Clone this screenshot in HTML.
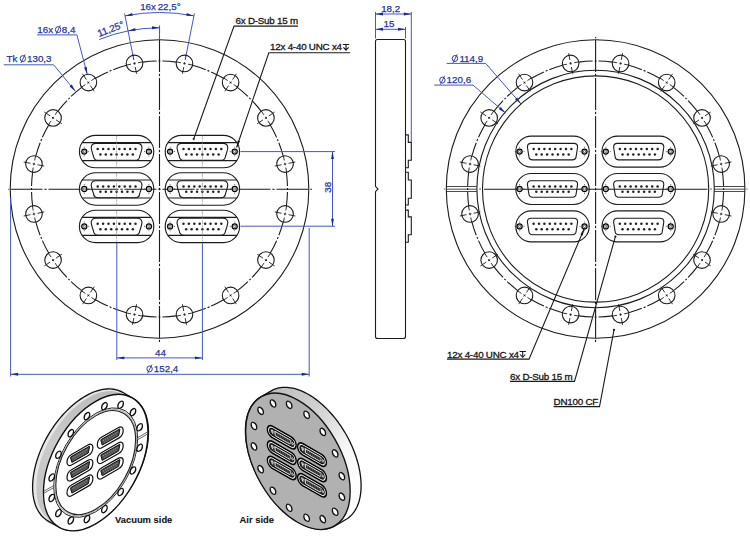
<!DOCTYPE html><html><head><meta charset="utf-8"><style>html,body{margin:0;padding:0;background:#fff;width:750px;height:536px;overflow:hidden}svg{display:block}.k{fill:none;stroke:#1c1c1c;stroke-width:1.1}.c{stroke:#1c1c1c;stroke-width:0.9}.b{fill:none;stroke:#4557c6;stroke-width:1}text{font-family:"Liberation Sans",sans-serif}.tb{fill:#2535a6;stroke:#2535a6;stroke-width:0.25;font-size:9.8px;letter-spacing:0px;word-spacing:-1px}.tk{fill:#151515;stroke:#151515;stroke-width:0.3;font-size:9.8px;letter-spacing:-0.22px;word-spacing:0px}</style></head><body><svg width="750" height="536" viewBox="0 0 750 536"><defs><g id="connL"><rect x="-37.2" y="-16.2" width="74.4" height="32.4" rx="16.2" class="k" stroke-width="1.3"/><line x1="-34.5" y1="-9" x2="34.5" y2="-9" class="k" stroke-width="1.6"/><line x1="-34.5" y1="9" x2="34.5" y2="9" class="k" stroke-width="1.6"/><path d="M -20.7 -8.2 L 20.7 -8.2 Q 25.3 -8.2 25.4 -3.6 Q 24.7 0.3 23.1 4.66 Q 22.8 8.8 18.2 8.8 L -18.2 8.8 Q -22.8 8.8 -23.1 4.66 Q -24.7 0.3 -25.4 -3.6 Q -25.3 -8.2 -20.7 -8.2 Z" class="k" stroke-width="1.2"/><circle cx="-18.9" cy="-2.6" r="1.25" fill="#222"/><circle cx="-13.5" cy="-2.6" r="1.25" fill="#222"/><circle cx="-8.1" cy="-2.6" r="1.25" fill="#222"/><circle cx="-2.7" cy="-2.6" r="1.25" fill="#222"/><circle cx="2.7" cy="-2.6" r="1.25" fill="#222"/><circle cx="8.1" cy="-2.6" r="1.25" fill="#222"/><circle cx="13.5" cy="-2.6" r="1.25" fill="#222"/><circle cx="18.9" cy="-2.6" r="1.25" fill="#222"/><circle cx="-16.2" cy="2.8" r="1.25" fill="#222"/><circle cx="-10.8" cy="2.8" r="1.25" fill="#222"/><circle cx="-5.4" cy="2.8" r="1.25" fill="#222"/><circle cx="0" cy="2.8" r="1.25" fill="#222"/><circle cx="5.4" cy="2.8" r="1.25" fill="#222"/><circle cx="10.8" cy="2.8" r="1.25" fill="#222"/><circle cx="16.2" cy="2.8" r="1.25" fill="#222"/><circle cx="-32.3" cy="0" r="2.55" fill="#fff" stroke="#000" stroke-width="1.2"/><rect x="-33.3" y="-1.1" width="2" height="2.2" rx="0.6" fill="none" stroke="#333" stroke-width="0.7"/><line x1="-32.3" y1="-4.8" x2="-32.3" y2="-3.9" stroke="#333" stroke-width="0.8"/><line x1="-32.3" y1="3.9" x2="-32.3" y2="4.8" stroke="#333" stroke-width="0.8"/><line x1="-37.2" y1="0" x2="-36.2" y2="0" stroke="#333" stroke-width="0.8"/><line x1="-28.4" y1="0" x2="-27.4" y2="0" stroke="#333" stroke-width="0.8"/><circle cx="32.3" cy="0" r="2.55" fill="#fff" stroke="#000" stroke-width="1.2"/><rect x="31.3" y="-1.1" width="2" height="2.2" rx="0.6" fill="none" stroke="#333" stroke-width="0.7"/><line x1="32.3" y1="-4.8" x2="32.3" y2="-3.9" stroke="#333" stroke-width="0.8"/><line x1="32.3" y1="3.9" x2="32.3" y2="4.8" stroke="#333" stroke-width="0.8"/><line x1="27.4" y1="0" x2="28.4" y2="0" stroke="#333" stroke-width="0.8"/><line x1="36.2" y1="0" x2="37.2" y2="0" stroke="#333" stroke-width="0.8"/><line x1="0" y1="-16" x2="0" y2="16" stroke="#888" stroke-width="0.6" stroke-dasharray="4 1"/></g><g id="connR"><rect x="-36.7" y="-15.5" width="73.4" height="31" rx="15.5" class="k" stroke-width="1.3"/><path d="M -21.4 -8.2 L 21.4 -8.2 Q 25 -8.2 25.1 -4.6 Q 24.4 0.05 23.6 5.06 Q 23.3 8.3 19.7 8.3 L -19.7 8.3 Q -23.3 8.3 -23.6 5.06 Q -24.4 0.05 -25.1 -4.6 Q -25 -8.2 -21.4 -8.2 Z" class="k" stroke-width="1.2"/><circle cx="-18.9" cy="-2.6" r="1.25" fill="#222"/><circle cx="-13.5" cy="-2.6" r="1.25" fill="#222"/><circle cx="-8.1" cy="-2.6" r="1.25" fill="#222"/><circle cx="-2.7" cy="-2.6" r="1.25" fill="#222"/><circle cx="2.7" cy="-2.6" r="1.25" fill="#222"/><circle cx="8.1" cy="-2.6" r="1.25" fill="#222"/><circle cx="13.5" cy="-2.6" r="1.25" fill="#222"/><circle cx="18.9" cy="-2.6" r="1.25" fill="#222"/><circle cx="-16.2" cy="2.8" r="1.25" fill="#222"/><circle cx="-10.8" cy="2.8" r="1.25" fill="#222"/><circle cx="-5.4" cy="2.8" r="1.25" fill="#222"/><circle cx="0" cy="2.8" r="1.25" fill="#222"/><circle cx="5.4" cy="2.8" r="1.25" fill="#222"/><circle cx="10.8" cy="2.8" r="1.25" fill="#222"/><circle cx="16.2" cy="2.8" r="1.25" fill="#222"/><circle cx="-32.9" cy="0" r="2.55" fill="#fff" stroke="#000" stroke-width="1.2"/><rect x="-33.9" y="-1.1" width="2" height="2.2" rx="0.6" fill="none" stroke="#333" stroke-width="0.7"/><line x1="-32.9" y1="-4.8" x2="-32.9" y2="-3.9" stroke="#333" stroke-width="0.8"/><line x1="-32.9" y1="3.9" x2="-32.9" y2="4.8" stroke="#333" stroke-width="0.8"/><line x1="-37.8" y1="0" x2="-36.8" y2="0" stroke="#333" stroke-width="0.8"/><line x1="-29" y1="0" x2="-28" y2="0" stroke="#333" stroke-width="0.8"/><circle cx="32" cy="0" r="2.55" fill="#fff" stroke="#000" stroke-width="1.2"/><rect x="31" y="-1.1" width="2" height="2.2" rx="0.6" fill="none" stroke="#333" stroke-width="0.7"/><line x1="32" y1="-4.8" x2="32" y2="-3.9" stroke="#333" stroke-width="0.8"/><line x1="32" y1="3.9" x2="32" y2="4.8" stroke="#333" stroke-width="0.8"/><line x1="27.1" y1="0" x2="28.1" y2="0" stroke="#333" stroke-width="0.8"/><line x1="35.9" y1="0" x2="36.9" y2="0" stroke="#333" stroke-width="0.8"/></g></defs><linearGradient id="vg" gradientUnits="userSpaceOnUse" x1="115.7" y1="392.6" x2="55.7" y2="522.6"><stop offset="0" stop-color="#bababa"/><stop offset="0.5" stop-color="#cbcbcb"/><stop offset="1" stop-color="#c4c4c4"/></linearGradient><path d="M 32.6 487 L 32.63 484.87 L 32.73 482.7 L 32.89 480.5 L 33.11 478.27 L 33.4 476.02 L 33.75 473.74 L 34.17 471.44 L 34.65 469.12 L 35.18 466.79 L 35.78 464.45 L 36.44 462.09 L 37.16 459.73 L 37.94 457.37 L 38.78 455 L 39.67 452.64 L 40.62 450.28 L 41.63 447.93 L 42.68 445.59 L 43.79 443.27 L 44.95 440.96 L 46.16 438.67 L 47.42 436.4 L 48.72 434.16 L 50.07 431.94 L 51.46 429.75 L 52.89 427.6 L 54.36 425.48 L 55.87 423.4 L 57.42 421.36 L 59 419.37 L 60.61 417.42 L 62.25 415.52 L 63.92 413.66 L 65.62 411.86 L 67.34 410.12 L 69.08 408.43 L 70.85 406.8 L 72.63 405.23 L 74.42 403.72 L 76.23 402.28 L 78.05 400.91 L 79.88 399.6 L 81.72 398.36 L 83.56 397.19 L 85.4 396.1 L 87.24 395.08 L 89.08 394.13 L 90.92 393.26 L 92.75 392.47 L 94.57 391.76 L 96.38 391.12 L 98.17 390.57 L 99.95 390.1 L 101.72 389.7 L 103.46 389.39 L 105.18 389.16 L 106.88 389.02 L 108.55 388.95 L 110.19 388.97 L 111.8 389.07 L 113.38 389.25 L 114.93 389.52 L 116.44 389.86 L 117.91 390.29 L 119.34 390.8 L 120.73 391.39 L 122.08 392.06 L 132.38 397.96 L 133.68 398.71 L 134.94 399.53 L 136.15 400.44 L 137.31 401.41 L 138.42 402.47 L 139.47 403.59 L 140.48 404.79 L 141.43 406.06 L 142.32 407.4 L 143.16 408.8 L 143.94 410.27 L 144.66 411.81 L 145.32 413.4 L 145.92 415.06 L 146.45 416.77 L 146.93 418.54 L 147.35 420.36 L 147.7 422.24 L 147.99 424.16 L 148.21 426.13 L 148.37 428.15 L 148.47 430.2 L 148.5 432.3 L 148.47 434.43 L 148.37 436.6 L 148.21 438.8 L 147.99 441.03 L 147.7 443.28 L 147.35 445.56 L 146.93 447.86 L 146.45 450.18 L 145.92 452.51 L 145.32 454.85 L 144.66 457.21 L 143.94 459.57 L 143.16 461.93 L 142.32 464.3 L 141.43 466.66 L 140.48 469.02 L 139.47 471.37 L 138.42 473.71 L 137.31 476.03 L 136.15 478.34 L 134.94 480.63 L 133.68 482.9 L 132.38 485.14 L 131.03 487.36 L 129.64 489.55 L 128.21 491.7 L 126.74 493.82 L 125.23 495.9 L 123.68 497.94 L 122.1 499.93 L 120.49 501.88 L 118.85 503.78 L 117.18 505.64 L 115.48 507.44 L 113.76 509.18 L 112.02 510.87 L 110.25 512.5 L 108.47 514.07 L 106.68 515.58 L 104.87 517.02 L 103.05 518.39 L 101.22 519.7 L 99.38 520.94 L 97.54 522.11 L 95.7 523.2 L 93.86 524.22 L 92.02 525.17 L 90.18 526.04 L 88.35 526.83 L 86.53 527.54 L 84.72 528.18 L 82.93 528.73 L 81.15 529.2 L 79.38 529.6 L 77.64 529.91 L 75.92 530.14 L 74.22 530.28 L 72.55 530.35 L 70.91 530.33 L 69.3 530.23 L 67.72 530.05 L 66.17 529.78 L 64.66 529.44 L 63.19 529.01 L 61.76 528.5 L 60.37 527.91 L 59.02 527.24 L 48.72 521.34 L 47.42 520.59 L 46.16 519.77 L 44.95 518.86 L 43.79 517.89 L 42.68 516.83 L 41.63 515.71 L 40.62 514.51 L 39.67 513.24 L 38.78 511.9 L 37.94 510.5 L 37.16 509.03 L 36.44 507.49 L 35.78 505.9 L 35.18 504.24 L 34.65 502.53 L 34.17 500.76 L 33.75 498.94 L 33.4 497.06 L 33.11 495.14 L 32.89 493.17 L 32.73 491.15 L 32.63 489.1 Z" fill="url(#vg)"/><circle r="149.3" transform="matrix(0.35 -0.2 0 0.41 86.95 457.59)" fill="none" stroke="#e6e6e6" stroke-width="3.5" vector-effect="non-scaling-stroke"/><path d="M 32.6 487 L 32.63 484.87 L 32.73 482.7 L 32.89 480.5 L 33.11 478.27 L 33.4 476.02 L 33.75 473.74 L 34.17 471.44 L 34.65 469.12 L 35.18 466.79 L 35.78 464.45 L 36.44 462.09 L 37.16 459.73 L 37.94 457.37 L 38.78 455 L 39.67 452.64 L 40.62 450.28 L 41.63 447.93 L 42.68 445.59 L 43.79 443.27 L 44.95 440.96 L 46.16 438.67 L 47.42 436.4 L 48.72 434.16 L 50.07 431.94 L 51.46 429.75 L 52.89 427.6 L 54.36 425.48 L 55.87 423.4 L 57.42 421.36 L 59 419.37 L 60.61 417.42 L 62.25 415.52 L 63.92 413.66 L 65.62 411.86 L 67.34 410.12 L 69.08 408.43 L 70.85 406.8 L 72.63 405.23 L 74.42 403.72 L 76.23 402.28 L 78.05 400.91 L 79.88 399.6 L 81.72 398.36 L 83.56 397.19 L 85.4 396.1 L 87.24 395.08 L 89.08 394.13 L 90.92 393.26 L 92.75 392.47 L 94.57 391.76 L 96.38 391.12 L 98.17 390.57 L 99.95 390.1 L 101.72 389.7 L 103.46 389.39 L 105.18 389.16 L 106.88 389.02 L 108.55 388.95 L 110.19 388.97 L 111.8 389.07 L 113.38 389.25 L 114.93 389.52 L 116.44 389.86 L 117.91 390.29 L 119.34 390.8 L 120.73 391.39 L 122.08 392.06 L 132.38 397.96 L 133.68 398.71 L 134.94 399.53 L 136.15 400.44 L 137.31 401.41 L 138.42 402.47 L 139.47 403.59 L 140.48 404.79 L 141.43 406.06 L 142.32 407.4 L 143.16 408.8 L 143.94 410.27 L 144.66 411.81 L 145.32 413.4 L 145.92 415.06 L 146.45 416.77 L 146.93 418.54 L 147.35 420.36 L 147.7 422.24 L 147.99 424.16 L 148.21 426.13 L 148.37 428.15 L 148.47 430.2 L 148.5 432.3 L 148.47 434.43 L 148.37 436.6 L 148.21 438.8 L 147.99 441.03 L 147.7 443.28 L 147.35 445.56 L 146.93 447.86 L 146.45 450.18 L 145.92 452.51 L 145.32 454.85 L 144.66 457.21 L 143.94 459.57 L 143.16 461.93 L 142.32 464.3 L 141.43 466.66 L 140.48 469.02 L 139.47 471.37 L 138.42 473.71 L 137.31 476.03 L 136.15 478.34 L 134.94 480.63 L 133.68 482.9 L 132.38 485.14 L 131.03 487.36 L 129.64 489.55 L 128.21 491.7 L 126.74 493.82 L 125.23 495.9 L 123.68 497.94 L 122.1 499.93 L 120.49 501.88 L 118.85 503.78 L 117.18 505.64 L 115.48 507.44 L 113.76 509.18 L 112.02 510.87 L 110.25 512.5 L 108.47 514.07 L 106.68 515.58 L 104.87 517.02 L 103.05 518.39 L 101.22 519.7 L 99.38 520.94 L 97.54 522.11 L 95.7 523.2 L 93.86 524.22 L 92.02 525.17 L 90.18 526.04 L 88.35 526.83 L 86.53 527.54 L 84.72 528.18 L 82.93 528.73 L 81.15 529.2 L 79.38 529.6 L 77.64 529.91 L 75.92 530.14 L 74.22 530.28 L 72.55 530.35 L 70.91 530.33 L 69.3 530.23 L 67.72 530.05 L 66.17 529.78 L 64.66 529.44 L 63.19 529.01 L 61.76 528.5 L 60.37 527.91 L 59.02 527.24 L 48.72 521.34 L 47.42 520.59 L 46.16 519.77 L 44.95 518.86 L 43.79 517.89 L 42.68 516.83 L 41.63 515.71 L 40.62 514.51 L 39.67 513.24 L 38.78 511.9 L 37.94 510.5 L 37.16 509.03 L 36.44 507.49 L 35.78 505.9 L 35.18 504.24 L 34.65 502.53 L 34.17 500.76 L 33.75 498.94 L 33.4 497.06 L 33.11 495.14 L 32.89 493.17 L 32.73 491.15 L 32.63 489.1 Z" fill="none" stroke="#111" stroke-width="1.3"/><g transform="matrix(0.35 -0.2 0 0.41 95.7 462.6)"><circle r="149.3" fill="#fff" stroke="#111" stroke-width="1.35" vector-effect="non-scaling-stroke"/><circle r="120" fill="none" stroke="#222" stroke-width="1" vector-effect="non-scaling-stroke"/><circle r="117" fill="none" stroke="#aaa" stroke-width="1" vector-effect="non-scaling-stroke"/><circle r="114" fill="none" stroke="#222" stroke-width="1.1" vector-effect="non-scaling-stroke"/><line x1="-121" y1="-2.5" x2="-149" y2="-2.5" stroke="#444" stroke-width="0.8" vector-effect="non-scaling-stroke"/><line x1="-121" y1="2.5" x2="-149" y2="2.5" stroke="#444" stroke-width="0.8" vector-effect="non-scaling-stroke"/><line x1="121" y1="-2.5" x2="149" y2="-2.5" stroke="#444" stroke-width="0.8" vector-effect="non-scaling-stroke"/><line x1="121" y1="2.5" x2="149" y2="2.5" stroke="#444" stroke-width="0.8" vector-effect="non-scaling-stroke"/><circle cx="24.97" cy="-125.54" r="8" fill="#fff" stroke="#111" stroke-width="1.3" vector-effect="non-scaling-stroke"/><circle cx="71.11" cy="-106.43" r="8" fill="#fff" stroke="#111" stroke-width="1.3" vector-effect="non-scaling-stroke"/><circle cx="106.43" cy="-71.11" r="8" fill="#fff" stroke="#111" stroke-width="1.3" vector-effect="non-scaling-stroke"/><circle cx="125.54" cy="-24.97" r="8" fill="#fff" stroke="#111" stroke-width="1.3" vector-effect="non-scaling-stroke"/><circle cx="125.54" cy="24.97" r="8" fill="#fff" stroke="#111" stroke-width="1.3" vector-effect="non-scaling-stroke"/><circle cx="106.43" cy="71.11" r="8" fill="#fff" stroke="#111" stroke-width="1.3" vector-effect="non-scaling-stroke"/><circle cx="71.11" cy="106.43" r="8" fill="#fff" stroke="#111" stroke-width="1.3" vector-effect="non-scaling-stroke"/><circle cx="24.97" cy="125.54" r="8" fill="#fff" stroke="#111" stroke-width="1.3" vector-effect="non-scaling-stroke"/><circle cx="-24.97" cy="125.54" r="8" fill="#fff" stroke="#111" stroke-width="1.3" vector-effect="non-scaling-stroke"/><circle cx="-71.11" cy="106.43" r="8" fill="#fff" stroke="#111" stroke-width="1.3" vector-effect="non-scaling-stroke"/><circle cx="-106.43" cy="71.11" r="8" fill="#fff" stroke="#111" stroke-width="1.3" vector-effect="non-scaling-stroke"/><circle cx="-125.54" cy="24.97" r="8" fill="#fff" stroke="#111" stroke-width="1.3" vector-effect="non-scaling-stroke"/><circle cx="-125.54" cy="-24.97" r="8" fill="#fff" stroke="#111" stroke-width="1.3" vector-effect="non-scaling-stroke"/><circle cx="-106.43" cy="-71.11" r="8" fill="#fff" stroke="#111" stroke-width="1.3" vector-effect="non-scaling-stroke"/><circle cx="-71.11" cy="-106.43" r="8" fill="#fff" stroke="#111" stroke-width="1.3" vector-effect="non-scaling-stroke"/><circle cx="-24.97" cy="-125.54" r="8" fill="#fff" stroke="#111" stroke-width="1.3" vector-effect="non-scaling-stroke"/></g><g transform="matrix(0.35 -0.2 0 0.41 95.1 461.6)"><g transform="translate(-43.3 -37.4)"><rect x="-37" y="-13" width="74" height="26" rx="13" fill="#fff" stroke="#111" stroke-width="1.2" vector-effect="non-scaling-stroke"/><path d="M -27 -7 Q -27 -8 -26 -8 L 27 -8 Q 28 -8 27.5 -7 L 24 7 L -23 7 Z" fill="#4a4a4a" stroke="#111" stroke-width="1" vector-effect="non-scaling-stroke"/><circle cx="-19.6" cy="-3" r="1.6" fill="#aaa"/><circle cx="-14" cy="-3" r="1.6" fill="#aaa"/><circle cx="-8.4" cy="-3" r="1.6" fill="#aaa"/><circle cx="-2.8" cy="-3" r="1.6" fill="#aaa"/><circle cx="2.8" cy="-3" r="1.6" fill="#aaa"/><circle cx="8.4" cy="-3" r="1.6" fill="#aaa"/><circle cx="14" cy="-3" r="1.6" fill="#aaa"/><circle cx="19.6" cy="-3" r="1.6" fill="#aaa"/><circle cx="-16.8" cy="2.6" r="1.6" fill="#888"/><circle cx="-11.2" cy="2.6" r="1.6" fill="#888"/><circle cx="-5.6" cy="2.6" r="1.6" fill="#888"/><circle cx="0" cy="2.6" r="1.6" fill="#888"/><circle cx="5.6" cy="2.6" r="1.6" fill="#888"/><circle cx="11.2" cy="2.6" r="1.6" fill="#888"/><circle cx="16.8" cy="2.6" r="1.6" fill="#888"/></g><g transform="translate(43.3 -37.4)"><rect x="-37" y="-13" width="74" height="26" rx="13" fill="#fff" stroke="#111" stroke-width="1.2" vector-effect="non-scaling-stroke"/><path d="M -27 -7 Q -27 -8 -26 -8 L 27 -8 Q 28 -8 27.5 -7 L 24 7 L -23 7 Z" fill="#4a4a4a" stroke="#111" stroke-width="1" vector-effect="non-scaling-stroke"/><circle cx="-19.6" cy="-3" r="1.6" fill="#aaa"/><circle cx="-14" cy="-3" r="1.6" fill="#aaa"/><circle cx="-8.4" cy="-3" r="1.6" fill="#aaa"/><circle cx="-2.8" cy="-3" r="1.6" fill="#aaa"/><circle cx="2.8" cy="-3" r="1.6" fill="#aaa"/><circle cx="8.4" cy="-3" r="1.6" fill="#aaa"/><circle cx="14" cy="-3" r="1.6" fill="#aaa"/><circle cx="19.6" cy="-3" r="1.6" fill="#aaa"/><circle cx="-16.8" cy="2.6" r="1.6" fill="#888"/><circle cx="-11.2" cy="2.6" r="1.6" fill="#888"/><circle cx="-5.6" cy="2.6" r="1.6" fill="#888"/><circle cx="0" cy="2.6" r="1.6" fill="#888"/><circle cx="5.6" cy="2.6" r="1.6" fill="#888"/><circle cx="11.2" cy="2.6" r="1.6" fill="#888"/><circle cx="16.8" cy="2.6" r="1.6" fill="#888"/></g><g transform="translate(-43.3 0)"><rect x="-37" y="-13" width="74" height="26" rx="13" fill="#fff" stroke="#111" stroke-width="1.2" vector-effect="non-scaling-stroke"/><path d="M -27 -7 Q -27 -8 -26 -8 L 27 -8 Q 28 -8 27.5 -7 L 24 7 L -23 7 Z" fill="#4a4a4a" stroke="#111" stroke-width="1" vector-effect="non-scaling-stroke"/><circle cx="-19.6" cy="-3" r="1.6" fill="#aaa"/><circle cx="-14" cy="-3" r="1.6" fill="#aaa"/><circle cx="-8.4" cy="-3" r="1.6" fill="#aaa"/><circle cx="-2.8" cy="-3" r="1.6" fill="#aaa"/><circle cx="2.8" cy="-3" r="1.6" fill="#aaa"/><circle cx="8.4" cy="-3" r="1.6" fill="#aaa"/><circle cx="14" cy="-3" r="1.6" fill="#aaa"/><circle cx="19.6" cy="-3" r="1.6" fill="#aaa"/><circle cx="-16.8" cy="2.6" r="1.6" fill="#888"/><circle cx="-11.2" cy="2.6" r="1.6" fill="#888"/><circle cx="-5.6" cy="2.6" r="1.6" fill="#888"/><circle cx="0" cy="2.6" r="1.6" fill="#888"/><circle cx="5.6" cy="2.6" r="1.6" fill="#888"/><circle cx="11.2" cy="2.6" r="1.6" fill="#888"/><circle cx="16.8" cy="2.6" r="1.6" fill="#888"/></g><g transform="translate(43.3 0)"><rect x="-37" y="-13" width="74" height="26" rx="13" fill="#fff" stroke="#111" stroke-width="1.2" vector-effect="non-scaling-stroke"/><path d="M -27 -7 Q -27 -8 -26 -8 L 27 -8 Q 28 -8 27.5 -7 L 24 7 L -23 7 Z" fill="#4a4a4a" stroke="#111" stroke-width="1" vector-effect="non-scaling-stroke"/><circle cx="-19.6" cy="-3" r="1.6" fill="#aaa"/><circle cx="-14" cy="-3" r="1.6" fill="#aaa"/><circle cx="-8.4" cy="-3" r="1.6" fill="#aaa"/><circle cx="-2.8" cy="-3" r="1.6" fill="#aaa"/><circle cx="2.8" cy="-3" r="1.6" fill="#aaa"/><circle cx="8.4" cy="-3" r="1.6" fill="#aaa"/><circle cx="14" cy="-3" r="1.6" fill="#aaa"/><circle cx="19.6" cy="-3" r="1.6" fill="#aaa"/><circle cx="-16.8" cy="2.6" r="1.6" fill="#888"/><circle cx="-11.2" cy="2.6" r="1.6" fill="#888"/><circle cx="-5.6" cy="2.6" r="1.6" fill="#888"/><circle cx="0" cy="2.6" r="1.6" fill="#888"/><circle cx="5.6" cy="2.6" r="1.6" fill="#888"/><circle cx="11.2" cy="2.6" r="1.6" fill="#888"/><circle cx="16.8" cy="2.6" r="1.6" fill="#888"/></g><g transform="translate(-43.3 37.4)"><rect x="-37" y="-13" width="74" height="26" rx="13" fill="#fff" stroke="#111" stroke-width="1.2" vector-effect="non-scaling-stroke"/><path d="M -27 -7 Q -27 -8 -26 -8 L 27 -8 Q 28 -8 27.5 -7 L 24 7 L -23 7 Z" fill="#4a4a4a" stroke="#111" stroke-width="1" vector-effect="non-scaling-stroke"/><circle cx="-19.6" cy="-3" r="1.6" fill="#aaa"/><circle cx="-14" cy="-3" r="1.6" fill="#aaa"/><circle cx="-8.4" cy="-3" r="1.6" fill="#aaa"/><circle cx="-2.8" cy="-3" r="1.6" fill="#aaa"/><circle cx="2.8" cy="-3" r="1.6" fill="#aaa"/><circle cx="8.4" cy="-3" r="1.6" fill="#aaa"/><circle cx="14" cy="-3" r="1.6" fill="#aaa"/><circle cx="19.6" cy="-3" r="1.6" fill="#aaa"/><circle cx="-16.8" cy="2.6" r="1.6" fill="#888"/><circle cx="-11.2" cy="2.6" r="1.6" fill="#888"/><circle cx="-5.6" cy="2.6" r="1.6" fill="#888"/><circle cx="0" cy="2.6" r="1.6" fill="#888"/><circle cx="5.6" cy="2.6" r="1.6" fill="#888"/><circle cx="11.2" cy="2.6" r="1.6" fill="#888"/><circle cx="16.8" cy="2.6" r="1.6" fill="#888"/></g><g transform="translate(43.3 37.4)"><rect x="-37" y="-13" width="74" height="26" rx="13" fill="#fff" stroke="#111" stroke-width="1.2" vector-effect="non-scaling-stroke"/><path d="M -27 -7 Q -27 -8 -26 -8 L 27 -8 Q 28 -8 27.5 -7 L 24 7 L -23 7 Z" fill="#4a4a4a" stroke="#111" stroke-width="1" vector-effect="non-scaling-stroke"/><circle cx="-19.6" cy="-3" r="1.6" fill="#aaa"/><circle cx="-14" cy="-3" r="1.6" fill="#aaa"/><circle cx="-8.4" cy="-3" r="1.6" fill="#aaa"/><circle cx="-2.8" cy="-3" r="1.6" fill="#aaa"/><circle cx="2.8" cy="-3" r="1.6" fill="#aaa"/><circle cx="8.4" cy="-3" r="1.6" fill="#aaa"/><circle cx="14" cy="-3" r="1.6" fill="#aaa"/><circle cx="19.6" cy="-3" r="1.6" fill="#aaa"/><circle cx="-16.8" cy="2.6" r="1.6" fill="#888"/><circle cx="-11.2" cy="2.6" r="1.6" fill="#888"/><circle cx="-5.6" cy="2.6" r="1.6" fill="#888"/><circle cx="0" cy="2.6" r="1.6" fill="#888"/><circle cx="5.6" cy="2.6" r="1.6" fill="#888"/><circle cx="11.2" cy="2.6" r="1.6" fill="#888"/><circle cx="16.8" cy="2.6" r="1.6" fill="#888"/></g></g><linearGradient id="ag" gradientUnits="userSpaceOnUse" x1="267.9" y1="391.3" x2="352.9" y2="481.3"><stop offset="0" stop-color="#bdbdbd"/><stop offset="0.45" stop-color="#d6d6d6"/><stop offset="0.75" stop-color="#f6f6f6"/><stop offset="1" stop-color="#fdfdfd"/></linearGradient><path d="M 245.4 430.8 L 245.43 428.7 L 245.53 426.64 L 245.69 424.63 L 245.91 422.65 L 246.2 420.73 L 246.55 418.85 L 246.96 417.03 L 247.43 415.26 L 247.97 413.55 L 248.57 411.89 L 249.22 410.3 L 249.94 408.76 L 250.71 407.3 L 251.55 405.89 L 252.43 404.56 L 253.38 403.29 L 254.38 402.09 L 255.43 400.97 L 256.53 399.92 L 257.68 398.94 L 258.88 398.04 L 260.13 397.22 L 270.83 391.12 L 272.13 390.38 L 273.47 389.71 L 274.85 389.13 L 276.28 388.62 L 277.74 388.2 L 279.24 387.86 L 280.78 387.59 L 282.35 387.42 L 283.95 387.32 L 285.59 387.31 L 287.25 387.38 L 288.93 387.53 L 290.64 387.77 L 292.38 388.08 L 294.13 388.48 L 295.9 388.96 L 297.68 389.52 L 299.48 390.17 L 301.29 390.89 L 303.11 391.68 L 304.94 392.56 L 306.77 393.51 L 308.6 394.54 L 310.43 395.64 L 312.26 396.82 L 314.09 398.06 L 315.91 399.38 L 317.72 400.76 L 319.52 402.21 L 321.3 403.72 L 323.07 405.3 L 324.82 406.93 L 326.56 408.63 L 328.27 410.38 L 329.95 412.19 L 331.61 414.05 L 333.25 415.96 L 334.85 417.92 L 336.42 419.92 L 337.96 421.97 L 339.46 424.05 L 340.92 426.18 L 342.35 428.34 L 343.73 430.53 L 345.07 432.75 L 346.37 435 L 347.62 437.28 L 348.82 439.57 L 349.97 441.89 L 351.07 444.22 L 352.12 446.57 L 353.12 448.92 L 354.07 451.28 L 354.95 453.65 L 355.79 456.02 L 356.56 458.39 L 357.28 460.76 L 357.93 463.11 L 358.53 465.46 L 359.07 467.8 L 359.54 470.12 L 359.95 472.42 L 360.3 474.7 L 360.59 476.96 L 360.81 479.19 L 360.97 481.39 L 361.07 483.56 L 361.1 485.7 L 361.07 487.8 L 360.97 489.86 L 360.81 491.87 L 360.59 493.85 L 360.3 495.77 L 359.95 497.65 L 359.54 499.47 L 359.07 501.24 L 358.53 502.95 L 357.93 504.61 L 357.28 506.2 L 356.56 507.74 L 355.79 509.2 L 354.95 510.61 L 354.07 511.94 L 353.12 513.21 L 352.12 514.41 L 351.07 515.53 L 349.97 516.58 L 348.82 517.56 L 347.62 518.46 L 346.37 519.28 L 335.67 525.38 L 334.37 526.12 L 333.03 526.79 L 331.65 527.37 L 330.22 527.88 L 328.76 528.3 L 327.26 528.64 L 325.72 528.91 L 324.15 529.08 L 322.55 529.18 L 320.91 529.19 L 319.25 529.12 L 317.57 528.97 L 315.86 528.73 L 314.12 528.42 L 312.37 528.02 L 310.6 527.54 L 308.82 526.98 L 307.02 526.33 L 305.21 525.61 L 303.39 524.82 L 301.56 523.94 L 299.73 522.99 L 297.9 521.96 L 296.07 520.86 L 294.24 519.68 L 292.41 518.44 L 290.59 517.12 L 288.78 515.74 L 286.98 514.29 L 285.2 512.78 L 283.43 511.2 L 281.68 509.57 L 279.94 507.87 L 278.23 506.12 L 276.55 504.31 L 274.89 502.45 L 273.25 500.54 L 271.65 498.58 L 270.08 496.58 L 268.54 494.53 L 267.04 492.45 L 265.58 490.32 L 264.15 488.16 L 262.77 485.97 L 261.43 483.75 L 260.13 481.5 L 258.88 479.22 L 257.68 476.93 L 256.53 474.61 L 255.43 472.28 L 254.38 469.93 L 253.38 467.58 L 252.43 465.22 L 251.55 462.85 L 250.71 460.48 L 249.94 458.11 L 249.22 455.74 L 248.57 453.39 L 247.97 451.04 L 247.43 448.7 L 246.96 446.38 L 246.55 444.08 L 246.2 441.8 L 245.91 439.54 L 245.69 437.31 L 245.53 435.11 L 245.43 432.94 Z" fill="url(#ag)" stroke="#111" stroke-width="1.3"/><g transform="matrix(0.35 0.2 0 0.41 297.9 461.3)"><circle r="149.3" fill="#b1b1b1" stroke="#111" stroke-width="1.35" vector-effect="non-scaling-stroke"/><circle cx="24.97" cy="-125.54" r="8" fill="#fff" stroke="#111" stroke-width="1.3" vector-effect="non-scaling-stroke"/><circle cx="71.11" cy="-106.43" r="8" fill="#fff" stroke="#111" stroke-width="1.3" vector-effect="non-scaling-stroke"/><circle cx="106.43" cy="-71.11" r="8" fill="#fff" stroke="#111" stroke-width="1.3" vector-effect="non-scaling-stroke"/><circle cx="125.54" cy="-24.97" r="8" fill="#fff" stroke="#111" stroke-width="1.3" vector-effect="non-scaling-stroke"/><circle cx="125.54" cy="24.97" r="8" fill="#fff" stroke="#111" stroke-width="1.3" vector-effect="non-scaling-stroke"/><circle cx="106.43" cy="71.11" r="8" fill="#fff" stroke="#111" stroke-width="1.3" vector-effect="non-scaling-stroke"/><circle cx="71.11" cy="106.43" r="8" fill="#fff" stroke="#111" stroke-width="1.3" vector-effect="non-scaling-stroke"/><circle cx="24.97" cy="125.54" r="8" fill="#fff" stroke="#111" stroke-width="1.3" vector-effect="non-scaling-stroke"/><circle cx="-24.97" cy="125.54" r="8" fill="#fff" stroke="#111" stroke-width="1.3" vector-effect="non-scaling-stroke"/><circle cx="-71.11" cy="106.43" r="8" fill="#fff" stroke="#111" stroke-width="1.3" vector-effect="non-scaling-stroke"/><circle cx="-106.43" cy="71.11" r="8" fill="#fff" stroke="#111" stroke-width="1.3" vector-effect="non-scaling-stroke"/><circle cx="-125.54" cy="24.97" r="8" fill="#fff" stroke="#111" stroke-width="1.3" vector-effect="non-scaling-stroke"/><circle cx="-125.54" cy="-24.97" r="8" fill="#fff" stroke="#111" stroke-width="1.3" vector-effect="non-scaling-stroke"/><circle cx="-106.43" cy="-71.11" r="8" fill="#fff" stroke="#111" stroke-width="1.3" vector-effect="non-scaling-stroke"/><circle cx="-71.11" cy="-106.43" r="8" fill="#fff" stroke="#111" stroke-width="1.3" vector-effect="non-scaling-stroke"/><circle cx="-24.97" cy="-125.54" r="8" fill="#fff" stroke="#111" stroke-width="1.3" vector-effect="non-scaling-stroke"/></g><g transform="matrix(0.35 0.2 0 0.41 296.9 461.3)"><g transform="translate(-43.3 -37.4)"><rect x="-41" y="-14" width="82" height="28" rx="14" fill="#7c7c7c" stroke="#000" stroke-width="1.5" vector-effect="non-scaling-stroke"/><rect x="-37.5" y="-10.5" width="75" height="21" rx="10.5" fill="none" stroke="#fafafa" stroke-width="1" vector-effect="non-scaling-stroke"/><rect x="-34.5" y="-8" width="69" height="16" rx="8" fill="#3a3a3a" stroke="#111" stroke-width="1.1" vector-effect="non-scaling-stroke"/><path d="M -20 -5 L 26 -5 L 23 5 L -18 5 Z" fill="#585858" stroke="#f4f4f4" stroke-width="0.9" vector-effect="non-scaling-stroke"/><line x1="-15" y1="-3.5" x2="-16" y2="3.5" stroke="#111" stroke-width="0.8" vector-effect="non-scaling-stroke"/><line x1="-10.2" y1="-3.5" x2="-11.2" y2="3.5" stroke="#111" stroke-width="0.8" vector-effect="non-scaling-stroke"/><line x1="-5.4" y1="-3.5" x2="-6.4" y2="3.5" stroke="#111" stroke-width="0.8" vector-effect="non-scaling-stroke"/><line x1="-0.6" y1="-3.5" x2="-1.6" y2="3.5" stroke="#111" stroke-width="0.8" vector-effect="non-scaling-stroke"/><line x1="4.2" y1="-3.5" x2="3.2" y2="3.5" stroke="#111" stroke-width="0.8" vector-effect="non-scaling-stroke"/><line x1="9" y1="-3.5" x2="8" y2="3.5" stroke="#111" stroke-width="0.8" vector-effect="non-scaling-stroke"/><line x1="13.8" y1="-3.5" x2="12.8" y2="3.5" stroke="#111" stroke-width="0.8" vector-effect="non-scaling-stroke"/><line x1="18.6" y1="-3.5" x2="17.6" y2="3.5" stroke="#111" stroke-width="0.8" vector-effect="non-scaling-stroke"/><line x1="23.4" y1="-3.5" x2="22.4" y2="3.5" stroke="#111" stroke-width="0.8" vector-effect="non-scaling-stroke"/><path d="M -30 -4 L -26 4 M -27 -5 L -24 0" stroke="#eee" stroke-width="0.9" fill="none" vector-effect="non-scaling-stroke"/><circle cx="31" cy="0" r="2.5" fill="none" stroke="#ddd" stroke-width="0.9" vector-effect="non-scaling-stroke"/></g><g transform="translate(43.3 -37.4)"><rect x="-41" y="-14" width="82" height="28" rx="14" fill="#7c7c7c" stroke="#000" stroke-width="1.5" vector-effect="non-scaling-stroke"/><rect x="-37.5" y="-10.5" width="75" height="21" rx="10.5" fill="none" stroke="#fafafa" stroke-width="1" vector-effect="non-scaling-stroke"/><rect x="-34.5" y="-8" width="69" height="16" rx="8" fill="#3a3a3a" stroke="#111" stroke-width="1.1" vector-effect="non-scaling-stroke"/><path d="M -20 -5 L 26 -5 L 23 5 L -18 5 Z" fill="#585858" stroke="#f4f4f4" stroke-width="0.9" vector-effect="non-scaling-stroke"/><line x1="-15" y1="-3.5" x2="-16" y2="3.5" stroke="#111" stroke-width="0.8" vector-effect="non-scaling-stroke"/><line x1="-10.2" y1="-3.5" x2="-11.2" y2="3.5" stroke="#111" stroke-width="0.8" vector-effect="non-scaling-stroke"/><line x1="-5.4" y1="-3.5" x2="-6.4" y2="3.5" stroke="#111" stroke-width="0.8" vector-effect="non-scaling-stroke"/><line x1="-0.6" y1="-3.5" x2="-1.6" y2="3.5" stroke="#111" stroke-width="0.8" vector-effect="non-scaling-stroke"/><line x1="4.2" y1="-3.5" x2="3.2" y2="3.5" stroke="#111" stroke-width="0.8" vector-effect="non-scaling-stroke"/><line x1="9" y1="-3.5" x2="8" y2="3.5" stroke="#111" stroke-width="0.8" vector-effect="non-scaling-stroke"/><line x1="13.8" y1="-3.5" x2="12.8" y2="3.5" stroke="#111" stroke-width="0.8" vector-effect="non-scaling-stroke"/><line x1="18.6" y1="-3.5" x2="17.6" y2="3.5" stroke="#111" stroke-width="0.8" vector-effect="non-scaling-stroke"/><line x1="23.4" y1="-3.5" x2="22.4" y2="3.5" stroke="#111" stroke-width="0.8" vector-effect="non-scaling-stroke"/><path d="M -30 -4 L -26 4 M -27 -5 L -24 0" stroke="#eee" stroke-width="0.9" fill="none" vector-effect="non-scaling-stroke"/><circle cx="31" cy="0" r="2.5" fill="none" stroke="#ddd" stroke-width="0.9" vector-effect="non-scaling-stroke"/></g><g transform="translate(-43.3 0)"><rect x="-41" y="-14" width="82" height="28" rx="14" fill="#7c7c7c" stroke="#000" stroke-width="1.5" vector-effect="non-scaling-stroke"/><rect x="-37.5" y="-10.5" width="75" height="21" rx="10.5" fill="none" stroke="#fafafa" stroke-width="1" vector-effect="non-scaling-stroke"/><rect x="-34.5" y="-8" width="69" height="16" rx="8" fill="#3a3a3a" stroke="#111" stroke-width="1.1" vector-effect="non-scaling-stroke"/><path d="M -20 -5 L 26 -5 L 23 5 L -18 5 Z" fill="#585858" stroke="#f4f4f4" stroke-width="0.9" vector-effect="non-scaling-stroke"/><line x1="-15" y1="-3.5" x2="-16" y2="3.5" stroke="#111" stroke-width="0.8" vector-effect="non-scaling-stroke"/><line x1="-10.2" y1="-3.5" x2="-11.2" y2="3.5" stroke="#111" stroke-width="0.8" vector-effect="non-scaling-stroke"/><line x1="-5.4" y1="-3.5" x2="-6.4" y2="3.5" stroke="#111" stroke-width="0.8" vector-effect="non-scaling-stroke"/><line x1="-0.6" y1="-3.5" x2="-1.6" y2="3.5" stroke="#111" stroke-width="0.8" vector-effect="non-scaling-stroke"/><line x1="4.2" y1="-3.5" x2="3.2" y2="3.5" stroke="#111" stroke-width="0.8" vector-effect="non-scaling-stroke"/><line x1="9" y1="-3.5" x2="8" y2="3.5" stroke="#111" stroke-width="0.8" vector-effect="non-scaling-stroke"/><line x1="13.8" y1="-3.5" x2="12.8" y2="3.5" stroke="#111" stroke-width="0.8" vector-effect="non-scaling-stroke"/><line x1="18.6" y1="-3.5" x2="17.6" y2="3.5" stroke="#111" stroke-width="0.8" vector-effect="non-scaling-stroke"/><line x1="23.4" y1="-3.5" x2="22.4" y2="3.5" stroke="#111" stroke-width="0.8" vector-effect="non-scaling-stroke"/><path d="M -30 -4 L -26 4 M -27 -5 L -24 0" stroke="#eee" stroke-width="0.9" fill="none" vector-effect="non-scaling-stroke"/><circle cx="31" cy="0" r="2.5" fill="none" stroke="#ddd" stroke-width="0.9" vector-effect="non-scaling-stroke"/></g><g transform="translate(43.3 0)"><rect x="-41" y="-14" width="82" height="28" rx="14" fill="#7c7c7c" stroke="#000" stroke-width="1.5" vector-effect="non-scaling-stroke"/><rect x="-37.5" y="-10.5" width="75" height="21" rx="10.5" fill="none" stroke="#fafafa" stroke-width="1" vector-effect="non-scaling-stroke"/><rect x="-34.5" y="-8" width="69" height="16" rx="8" fill="#3a3a3a" stroke="#111" stroke-width="1.1" vector-effect="non-scaling-stroke"/><path d="M -20 -5 L 26 -5 L 23 5 L -18 5 Z" fill="#585858" stroke="#f4f4f4" stroke-width="0.9" vector-effect="non-scaling-stroke"/><line x1="-15" y1="-3.5" x2="-16" y2="3.5" stroke="#111" stroke-width="0.8" vector-effect="non-scaling-stroke"/><line x1="-10.2" y1="-3.5" x2="-11.2" y2="3.5" stroke="#111" stroke-width="0.8" vector-effect="non-scaling-stroke"/><line x1="-5.4" y1="-3.5" x2="-6.4" y2="3.5" stroke="#111" stroke-width="0.8" vector-effect="non-scaling-stroke"/><line x1="-0.6" y1="-3.5" x2="-1.6" y2="3.5" stroke="#111" stroke-width="0.8" vector-effect="non-scaling-stroke"/><line x1="4.2" y1="-3.5" x2="3.2" y2="3.5" stroke="#111" stroke-width="0.8" vector-effect="non-scaling-stroke"/><line x1="9" y1="-3.5" x2="8" y2="3.5" stroke="#111" stroke-width="0.8" vector-effect="non-scaling-stroke"/><line x1="13.8" y1="-3.5" x2="12.8" y2="3.5" stroke="#111" stroke-width="0.8" vector-effect="non-scaling-stroke"/><line x1="18.6" y1="-3.5" x2="17.6" y2="3.5" stroke="#111" stroke-width="0.8" vector-effect="non-scaling-stroke"/><line x1="23.4" y1="-3.5" x2="22.4" y2="3.5" stroke="#111" stroke-width="0.8" vector-effect="non-scaling-stroke"/><path d="M -30 -4 L -26 4 M -27 -5 L -24 0" stroke="#eee" stroke-width="0.9" fill="none" vector-effect="non-scaling-stroke"/><circle cx="31" cy="0" r="2.5" fill="none" stroke="#ddd" stroke-width="0.9" vector-effect="non-scaling-stroke"/></g><g transform="translate(-43.3 37.4)"><rect x="-41" y="-14" width="82" height="28" rx="14" fill="#7c7c7c" stroke="#000" stroke-width="1.5" vector-effect="non-scaling-stroke"/><rect x="-37.5" y="-10.5" width="75" height="21" rx="10.5" fill="none" stroke="#fafafa" stroke-width="1" vector-effect="non-scaling-stroke"/><rect x="-34.5" y="-8" width="69" height="16" rx="8" fill="#3a3a3a" stroke="#111" stroke-width="1.1" vector-effect="non-scaling-stroke"/><path d="M -20 -5 L 26 -5 L 23 5 L -18 5 Z" fill="#585858" stroke="#f4f4f4" stroke-width="0.9" vector-effect="non-scaling-stroke"/><line x1="-15" y1="-3.5" x2="-16" y2="3.5" stroke="#111" stroke-width="0.8" vector-effect="non-scaling-stroke"/><line x1="-10.2" y1="-3.5" x2="-11.2" y2="3.5" stroke="#111" stroke-width="0.8" vector-effect="non-scaling-stroke"/><line x1="-5.4" y1="-3.5" x2="-6.4" y2="3.5" stroke="#111" stroke-width="0.8" vector-effect="non-scaling-stroke"/><line x1="-0.6" y1="-3.5" x2="-1.6" y2="3.5" stroke="#111" stroke-width="0.8" vector-effect="non-scaling-stroke"/><line x1="4.2" y1="-3.5" x2="3.2" y2="3.5" stroke="#111" stroke-width="0.8" vector-effect="non-scaling-stroke"/><line x1="9" y1="-3.5" x2="8" y2="3.5" stroke="#111" stroke-width="0.8" vector-effect="non-scaling-stroke"/><line x1="13.8" y1="-3.5" x2="12.8" y2="3.5" stroke="#111" stroke-width="0.8" vector-effect="non-scaling-stroke"/><line x1="18.6" y1="-3.5" x2="17.6" y2="3.5" stroke="#111" stroke-width="0.8" vector-effect="non-scaling-stroke"/><line x1="23.4" y1="-3.5" x2="22.4" y2="3.5" stroke="#111" stroke-width="0.8" vector-effect="non-scaling-stroke"/><path d="M -30 -4 L -26 4 M -27 -5 L -24 0" stroke="#eee" stroke-width="0.9" fill="none" vector-effect="non-scaling-stroke"/><circle cx="31" cy="0" r="2.5" fill="none" stroke="#ddd" stroke-width="0.9" vector-effect="non-scaling-stroke"/></g><g transform="translate(43.3 37.4)"><rect x="-41" y="-14" width="82" height="28" rx="14" fill="#7c7c7c" stroke="#000" stroke-width="1.5" vector-effect="non-scaling-stroke"/><rect x="-37.5" y="-10.5" width="75" height="21" rx="10.5" fill="none" stroke="#fafafa" stroke-width="1" vector-effect="non-scaling-stroke"/><rect x="-34.5" y="-8" width="69" height="16" rx="8" fill="#3a3a3a" stroke="#111" stroke-width="1.1" vector-effect="non-scaling-stroke"/><path d="M -20 -5 L 26 -5 L 23 5 L -18 5 Z" fill="#585858" stroke="#f4f4f4" stroke-width="0.9" vector-effect="non-scaling-stroke"/><line x1="-15" y1="-3.5" x2="-16" y2="3.5" stroke="#111" stroke-width="0.8" vector-effect="non-scaling-stroke"/><line x1="-10.2" y1="-3.5" x2="-11.2" y2="3.5" stroke="#111" stroke-width="0.8" vector-effect="non-scaling-stroke"/><line x1="-5.4" y1="-3.5" x2="-6.4" y2="3.5" stroke="#111" stroke-width="0.8" vector-effect="non-scaling-stroke"/><line x1="-0.6" y1="-3.5" x2="-1.6" y2="3.5" stroke="#111" stroke-width="0.8" vector-effect="non-scaling-stroke"/><line x1="4.2" y1="-3.5" x2="3.2" y2="3.5" stroke="#111" stroke-width="0.8" vector-effect="non-scaling-stroke"/><line x1="9" y1="-3.5" x2="8" y2="3.5" stroke="#111" stroke-width="0.8" vector-effect="non-scaling-stroke"/><line x1="13.8" y1="-3.5" x2="12.8" y2="3.5" stroke="#111" stroke-width="0.8" vector-effect="non-scaling-stroke"/><line x1="18.6" y1="-3.5" x2="17.6" y2="3.5" stroke="#111" stroke-width="0.8" vector-effect="non-scaling-stroke"/><line x1="23.4" y1="-3.5" x2="22.4" y2="3.5" stroke="#111" stroke-width="0.8" vector-effect="non-scaling-stroke"/><path d="M -30 -4 L -26 4 M -27 -5 L -24 0" stroke="#eee" stroke-width="0.9" fill="none" vector-effect="non-scaling-stroke"/><circle cx="31" cy="0" r="2.5" fill="none" stroke="#ddd" stroke-width="0.9" vector-effect="non-scaling-stroke"/></g></g><circle cx="159.5" cy="189" r="149.3" class="k" stroke-width="1.2"/><circle cx="184.47" cy="63.46" r="8.3" class="k"/><line x1="185.17" y1="59.93" x2="186.52" y2="53.16" class="c"/><line x1="183.77" y1="66.99" x2="182.42" y2="73.76" class="c"/><line x1="188" y1="64.16" x2="192.61" y2="65.08" class="c"/><line x1="180.94" y1="62.76" x2="176.33" y2="61.84" class="c"/><line x1="184.22" y1="64.73" x2="184.73" y2="62.18" class="c" stroke-width="1.1"/><line x1="183.2" y1="63.21" x2="185.75" y2="63.71" class="c" stroke-width="1.1"/><path d="M 192.55 65.34 A 128 128 0 0 1 223.57 78.19" class="k" stroke-width="0.95" stroke-dasharray="13.93 1.9 2 1.9 13.93 50"/><circle cx="230.61" cy="82.57" r="8.3" class="k"/><line x1="232.61" y1="79.58" x2="236.45" y2="73.84" class="c"/><line x1="228.61" y1="85.57" x2="224.78" y2="91.3" class="c"/><line x1="233.61" y1="84.57" x2="237.51" y2="87.18" class="c"/><line x1="227.62" y1="80.57" x2="223.71" y2="77.96" class="c"/><line x1="229.89" y1="83.65" x2="231.34" y2="81.49" class="c" stroke-width="1.1"/><line x1="229.53" y1="81.85" x2="231.69" y2="83.29" class="c" stroke-width="1.1"/><path d="M 237.36 87.4 A 128 128 0 0 1 261.1 111.14" class="k" stroke-width="0.95" stroke-dasharray="13.93 1.9 2 1.9 13.93 50"/><circle cx="265.93" cy="117.89" r="8.3" class="k"/><line x1="268.92" y1="115.89" x2="274.66" y2="112.05" class="c"/><line x1="262.93" y1="119.89" x2="257.2" y2="123.72" class="c"/><line x1="267.93" y1="120.88" x2="270.54" y2="124.79" class="c"/><line x1="263.93" y1="114.89" x2="261.32" y2="110.99" class="c"/><line x1="264.85" y1="118.61" x2="267.01" y2="117.16" class="c" stroke-width="1.1"/><line x1="265.21" y1="116.81" x2="266.65" y2="118.97" class="c" stroke-width="1.1"/><path d="M 270.31 124.93 A 128 128 0 0 1 283.16 155.95" class="k" stroke-width="0.95" stroke-dasharray="13.93 1.9 2 1.9 13.93 50"/><circle cx="285.04" cy="164.03" r="8.3" class="k"/><line x1="288.57" y1="163.33" x2="295.34" y2="161.98" class="c"/><line x1="281.51" y1="164.73" x2="274.74" y2="166.08" class="c"/><line x1="285.74" y1="167.56" x2="286.66" y2="172.17" class="c"/><line x1="284.34" y1="160.5" x2="283.42" y2="155.89" class="c"/><line x1="283.77" y1="164.28" x2="286.32" y2="163.77" class="c" stroke-width="1.1"/><line x1="284.79" y1="162.75" x2="285.29" y2="165.3" class="c" stroke-width="1.1"/><path d="M 286.39 172.22 A 128 128 0 0 1 286.39 205.78" class="k" stroke-width="0.95" stroke-dasharray="13.93 1.9 2 1.9 13.93 50"/><circle cx="285.04" cy="213.97" r="8.3" class="k"/><line x1="288.57" y1="214.67" x2="295.34" y2="216.02" class="c"/><line x1="281.51" y1="213.27" x2="274.74" y2="211.92" class="c"/><line x1="284.34" y1="217.5" x2="283.42" y2="222.11" class="c"/><line x1="285.74" y1="210.44" x2="286.66" y2="205.83" class="c"/><line x1="283.77" y1="213.72" x2="286.32" y2="214.23" class="c" stroke-width="1.1"/><line x1="285.29" y1="212.7" x2="284.79" y2="215.25" class="c" stroke-width="1.1"/><path d="M 283.16 222.05 A 128 128 0 0 1 270.31 253.07" class="k" stroke-width="0.95" stroke-dasharray="13.93 1.9 2 1.9 13.93 50"/><circle cx="265.93" cy="260.11" r="8.3" class="k"/><line x1="268.92" y1="262.11" x2="274.66" y2="265.95" class="c"/><line x1="262.93" y1="258.11" x2="257.2" y2="254.28" class="c"/><line x1="263.93" y1="263.11" x2="261.32" y2="267.01" class="c"/><line x1="267.93" y1="257.12" x2="270.54" y2="253.21" class="c"/><line x1="264.85" y1="259.39" x2="267.01" y2="260.84" class="c" stroke-width="1.1"/><line x1="266.65" y1="259.03" x2="265.21" y2="261.19" class="c" stroke-width="1.1"/><path d="M 261.1 266.86 A 128 128 0 0 1 237.36 290.6" class="k" stroke-width="0.95" stroke-dasharray="13.93 1.9 2 1.9 13.93 50"/><circle cx="230.61" cy="295.43" r="8.3" class="k"/><line x1="232.61" y1="298.42" x2="236.45" y2="304.16" class="c"/><line x1="228.61" y1="292.43" x2="224.78" y2="286.7" class="c"/><line x1="227.62" y1="297.43" x2="223.71" y2="300.04" class="c"/><line x1="233.61" y1="293.43" x2="237.51" y2="290.82" class="c"/><line x1="229.89" y1="294.35" x2="231.34" y2="296.51" class="c" stroke-width="1.1"/><line x1="231.69" y1="294.71" x2="229.53" y2="296.15" class="c" stroke-width="1.1"/><path d="M 223.57 299.81 A 128 128 0 0 1 192.55 312.66" class="k" stroke-width="0.95" stroke-dasharray="13.93 1.9 2 1.9 13.93 50"/><circle cx="184.47" cy="314.54" r="8.3" class="k"/><line x1="185.17" y1="318.07" x2="186.52" y2="324.84" class="c"/><line x1="183.77" y1="311.01" x2="182.42" y2="304.24" class="c"/><line x1="180.94" y1="315.24" x2="176.33" y2="316.16" class="c"/><line x1="188" y1="313.84" x2="192.61" y2="312.92" class="c"/><line x1="184.22" y1="313.27" x2="184.73" y2="315.82" class="c" stroke-width="1.1"/><line x1="185.75" y1="314.29" x2="183.2" y2="314.79" class="c" stroke-width="1.1"/><path d="M 176.28 315.89 A 128 128 0 0 1 142.72 315.89" class="k" stroke-width="0.95" stroke-dasharray="13.93 1.9 2 1.9 13.93 50"/><circle cx="134.53" cy="314.54" r="8.3" class="k"/><line x1="133.83" y1="318.07" x2="132.48" y2="324.84" class="c"/><line x1="135.23" y1="311.01" x2="136.58" y2="304.24" class="c"/><line x1="131" y1="313.84" x2="126.39" y2="312.92" class="c"/><line x1="138.06" y1="315.24" x2="142.67" y2="316.16" class="c"/><line x1="134.78" y1="313.27" x2="134.27" y2="315.82" class="c" stroke-width="1.1"/><line x1="135.8" y1="314.79" x2="133.25" y2="314.29" class="c" stroke-width="1.1"/><path d="M 126.45 312.66 A 128 128 0 0 1 95.43 299.81" class="k" stroke-width="0.95" stroke-dasharray="13.93 1.9 2 1.9 13.93 50"/><circle cx="88.39" cy="295.43" r="8.3" class="k"/><line x1="86.39" y1="298.42" x2="82.55" y2="304.16" class="c"/><line x1="90.39" y1="292.43" x2="94.22" y2="286.7" class="c"/><line x1="85.39" y1="293.43" x2="81.49" y2="290.82" class="c"/><line x1="91.38" y1="297.43" x2="95.29" y2="300.04" class="c"/><line x1="89.11" y1="294.35" x2="87.66" y2="296.51" class="c" stroke-width="1.1"/><line x1="89.47" y1="296.15" x2="87.31" y2="294.71" class="c" stroke-width="1.1"/><path d="M 81.64 290.6 A 128 128 0 0 1 57.9 266.86" class="k" stroke-width="0.95" stroke-dasharray="13.93 1.9 2 1.9 13.93 50"/><circle cx="53.07" cy="260.11" r="8.3" class="k"/><line x1="50.08" y1="262.11" x2="44.34" y2="265.95" class="c"/><line x1="56.07" y1="258.11" x2="61.8" y2="254.28" class="c"/><line x1="51.07" y1="257.12" x2="48.46" y2="253.21" class="c"/><line x1="55.07" y1="263.11" x2="57.68" y2="267.01" class="c"/><line x1="54.15" y1="259.39" x2="51.99" y2="260.84" class="c" stroke-width="1.1"/><line x1="53.79" y1="261.19" x2="52.35" y2="259.03" class="c" stroke-width="1.1"/><path d="M 48.69 253.07 A 128 128 0 0 1 35.84 222.05" class="k" stroke-width="0.95" stroke-dasharray="13.93 1.9 2 1.9 13.93 50"/><circle cx="33.96" cy="213.97" r="8.3" class="k"/><line x1="30.43" y1="214.67" x2="23.66" y2="216.02" class="c"/><line x1="37.49" y1="213.27" x2="44.26" y2="211.92" class="c"/><line x1="33.26" y1="210.44" x2="32.34" y2="205.83" class="c"/><line x1="34.66" y1="217.5" x2="35.58" y2="222.11" class="c"/><line x1="35.23" y1="213.72" x2="32.68" y2="214.23" class="c" stroke-width="1.1"/><line x1="34.21" y1="215.25" x2="33.71" y2="212.7" class="c" stroke-width="1.1"/><path d="M 32.61 205.78 A 128 128 0 0 1 32.61 172.22" class="k" stroke-width="0.95" stroke-dasharray="13.93 1.9 2 1.9 13.93 50"/><circle cx="33.96" cy="164.03" r="8.3" class="k"/><line x1="30.43" y1="163.33" x2="23.66" y2="161.98" class="c"/><line x1="37.49" y1="164.73" x2="44.26" y2="166.08" class="c"/><line x1="34.66" y1="160.5" x2="35.58" y2="155.89" class="c"/><line x1="33.26" y1="167.56" x2="32.34" y2="172.17" class="c"/><line x1="35.23" y1="164.28" x2="32.68" y2="163.77" class="c" stroke-width="1.1"/><line x1="33.71" y1="165.3" x2="34.21" y2="162.75" class="c" stroke-width="1.1"/><path d="M 35.84 155.95 A 128 128 0 0 1 48.69 124.93" class="k" stroke-width="0.95" stroke-dasharray="13.93 1.9 2 1.9 13.93 50"/><circle cx="53.07" cy="117.89" r="8.3" class="k"/><line x1="50.08" y1="115.89" x2="44.34" y2="112.05" class="c"/><line x1="56.07" y1="119.89" x2="61.8" y2="123.72" class="c"/><line x1="55.07" y1="114.89" x2="57.68" y2="110.99" class="c"/><line x1="51.07" y1="120.88" x2="48.46" y2="124.79" class="c"/><line x1="54.15" y1="118.61" x2="51.99" y2="117.16" class="c" stroke-width="1.1"/><line x1="52.35" y1="118.97" x2="53.79" y2="116.81" class="c" stroke-width="1.1"/><path d="M 57.9 111.14 A 128 128 0 0 1 81.64 87.4" class="k" stroke-width="0.95" stroke-dasharray="13.93 1.9 2 1.9 13.93 50"/><circle cx="88.39" cy="82.57" r="8.3" class="k"/><line x1="86.39" y1="79.58" x2="82.55" y2="73.84" class="c"/><line x1="90.39" y1="85.57" x2="94.22" y2="91.3" class="c"/><line x1="91.38" y1="80.57" x2="95.29" y2="77.96" class="c"/><line x1="85.39" y1="84.57" x2="81.49" y2="87.18" class="c"/><line x1="89.11" y1="83.65" x2="87.66" y2="81.49" class="c" stroke-width="1.1"/><line x1="87.31" y1="83.29" x2="89.47" y2="81.85" class="c" stroke-width="1.1"/><path d="M 95.43 78.19 A 128 128 0 0 1 126.45 65.34" class="k" stroke-width="0.95" stroke-dasharray="13.93 1.9 2 1.9 13.93 50"/><circle cx="134.53" cy="63.46" r="8.3" class="k"/><line x1="133.83" y1="59.93" x2="132.48" y2="53.16" class="c"/><line x1="135.23" y1="66.99" x2="136.58" y2="73.76" class="c"/><line x1="138.06" y1="62.76" x2="142.67" y2="61.84" class="c"/><line x1="131" y1="64.16" x2="126.39" y2="65.08" class="c"/><line x1="134.78" y1="64.73" x2="134.27" y2="62.18" class="c" stroke-width="1.1"/><line x1="133.25" y1="63.71" x2="135.8" y2="63.21" class="c" stroke-width="1.1"/><path d="M 142.72 62.11 A 128 128 0 0 1 176.28 62.11" class="k" stroke-width="0.95" stroke-dasharray="13.93 1.9 2 1.9 13.93 50"/><line x1="8" y1="189.2" x2="312" y2="189.2" class="k" stroke="#000" stroke-width="1.1" stroke-dasharray="32 1.8 2.4 1.8" stroke-dashoffset="35.5"/><line x1="159.5" y1="26" x2="159.5" y2="342" class="k" stroke-width="1" stroke-dasharray="32 1.8 2.4 1.8" stroke-dashoffset="24"/><use href="#connL" x="116.6" y="151.6"/><use href="#connL" x="202.4" y="151.6"/><use href="#connL" x="116.6" y="189"/><use href="#connL" x="202.4" y="189"/><use href="#connL" x="116.6" y="226.4"/><use href="#connL" x="202.4" y="226.4"/><path d="M 375.5 41.5 Q 375.5 39.5 377.5 39.5 L 403.5 39.5 Q 405.5 39.5 405.5 41.5 L 405.5 336.5 Q 405.5 338.5 403.5 338.5 L 377.5 338.5 Q 375.5 338.5 375.5 336.5 L 375.5 191.6 L 378 189 L 375.5 186.4 Z" class="k" stroke-width="1.15"/><polyline points="405.5,134.9 408.3,134.9 408.3,142.4 411.3,142.4 411.3,160.3 408.3,160.3 408.3,167.8 405.5,167.8" class="k"/><polyline points="405.5,172.2 408.3,172.2 408.3,180 411.3,180 411.3,198.2 408.3,198.2 408.3,205 405.5,205" class="k"/><polyline points="405.5,210.1 408.3,210.1 408.3,216.9 411.3,216.9 411.3,234.8 408.3,234.8 408.3,242.2 405.5,242.2" class="k"/><circle cx="595.6" cy="189" r="149.3" class="k" stroke-width="1.2"/><circle cx="595.6" cy="189" r="118.7" class="k"/><circle cx="595.6" cy="189" r="113.1" class="k" stroke-width="1.2"/><circle cx="620.57" cy="63.46" r="8.3" class="k"/><line x1="621.27" y1="59.93" x2="622.62" y2="53.16" class="c"/><line x1="619.87" y1="66.99" x2="618.52" y2="73.76" class="c"/><line x1="624.1" y1="64.16" x2="628.71" y2="65.08" class="c"/><line x1="617.04" y1="62.76" x2="612.43" y2="61.84" class="c"/><line x1="620.32" y1="64.73" x2="620.83" y2="62.18" class="c" stroke-width="1.1"/><line x1="619.3" y1="63.21" x2="621.85" y2="63.71" class="c" stroke-width="1.1"/><path d="M 628.65 65.34 A 128 128 0 0 1 659.67 78.19" class="k" stroke-width="0.95" stroke-dasharray="13.93 1.9 2 1.9 13.93 50"/><circle cx="666.71" cy="82.57" r="8.3" class="k"/><line x1="668.71" y1="79.58" x2="672.55" y2="73.84" class="c"/><line x1="664.71" y1="85.57" x2="660.88" y2="91.3" class="c"/><line x1="669.71" y1="84.57" x2="673.61" y2="87.18" class="c"/><line x1="663.72" y1="80.57" x2="659.81" y2="77.96" class="c"/><line x1="665.99" y1="83.65" x2="667.44" y2="81.49" class="c" stroke-width="1.1"/><line x1="665.63" y1="81.85" x2="667.79" y2="83.29" class="c" stroke-width="1.1"/><path d="M 673.46 87.4 A 128 128 0 0 1 697.2 111.14" class="k" stroke-width="0.95" stroke-dasharray="13.93 1.9 2 1.9 13.93 50"/><circle cx="702.03" cy="117.89" r="8.3" class="k"/><line x1="705.02" y1="115.89" x2="710.76" y2="112.05" class="c"/><line x1="699.03" y1="119.89" x2="693.3" y2="123.72" class="c"/><line x1="704.03" y1="120.88" x2="706.64" y2="124.79" class="c"/><line x1="700.03" y1="114.89" x2="697.42" y2="110.99" class="c"/><line x1="700.95" y1="118.61" x2="703.11" y2="117.16" class="c" stroke-width="1.1"/><line x1="701.31" y1="116.81" x2="702.75" y2="118.97" class="c" stroke-width="1.1"/><path d="M 706.41 124.93 A 128 128 0 0 1 719.26 155.95" class="k" stroke-width="0.95" stroke-dasharray="13.93 1.9 2 1.9 13.93 50"/><circle cx="721.14" cy="164.03" r="8.3" class="k"/><line x1="724.67" y1="163.33" x2="731.44" y2="161.98" class="c"/><line x1="717.61" y1="164.73" x2="710.84" y2="166.08" class="c"/><line x1="721.84" y1="167.56" x2="722.76" y2="172.17" class="c"/><line x1="720.44" y1="160.5" x2="719.52" y2="155.89" class="c"/><line x1="719.87" y1="164.28" x2="722.42" y2="163.77" class="c" stroke-width="1.1"/><line x1="720.89" y1="162.75" x2="721.39" y2="165.3" class="c" stroke-width="1.1"/><path d="M 722.49 172.22 A 128 128 0 0 1 722.49 205.78" class="k" stroke-width="0.95" stroke-dasharray="13.93 1.9 2 1.9 13.93 50"/><circle cx="721.14" cy="213.97" r="8.3" class="k"/><line x1="724.67" y1="214.67" x2="731.44" y2="216.02" class="c"/><line x1="717.61" y1="213.27" x2="710.84" y2="211.92" class="c"/><line x1="720.44" y1="217.5" x2="719.52" y2="222.11" class="c"/><line x1="721.84" y1="210.44" x2="722.76" y2="205.83" class="c"/><line x1="719.87" y1="213.72" x2="722.42" y2="214.23" class="c" stroke-width="1.1"/><line x1="721.39" y1="212.7" x2="720.89" y2="215.25" class="c" stroke-width="1.1"/><path d="M 719.26 222.05 A 128 128 0 0 1 706.41 253.07" class="k" stroke-width="0.95" stroke-dasharray="13.93 1.9 2 1.9 13.93 50"/><circle cx="702.03" cy="260.11" r="8.3" class="k"/><line x1="705.02" y1="262.11" x2="710.76" y2="265.95" class="c"/><line x1="699.03" y1="258.11" x2="693.3" y2="254.28" class="c"/><line x1="700.03" y1="263.11" x2="697.42" y2="267.01" class="c"/><line x1="704.03" y1="257.12" x2="706.64" y2="253.21" class="c"/><line x1="700.95" y1="259.39" x2="703.11" y2="260.84" class="c" stroke-width="1.1"/><line x1="702.75" y1="259.03" x2="701.31" y2="261.19" class="c" stroke-width="1.1"/><path d="M 697.2 266.86 A 128 128 0 0 1 673.46 290.6" class="k" stroke-width="0.95" stroke-dasharray="13.93 1.9 2 1.9 13.93 50"/><circle cx="666.71" cy="295.43" r="8.3" class="k"/><line x1="668.71" y1="298.42" x2="672.55" y2="304.16" class="c"/><line x1="664.71" y1="292.43" x2="660.88" y2="286.7" class="c"/><line x1="663.72" y1="297.43" x2="659.81" y2="300.04" class="c"/><line x1="669.71" y1="293.43" x2="673.61" y2="290.82" class="c"/><line x1="665.99" y1="294.35" x2="667.44" y2="296.51" class="c" stroke-width="1.1"/><line x1="667.79" y1="294.71" x2="665.63" y2="296.15" class="c" stroke-width="1.1"/><path d="M 659.67 299.81 A 128 128 0 0 1 628.65 312.66" class="k" stroke-width="0.95" stroke-dasharray="13.93 1.9 2 1.9 13.93 50"/><circle cx="620.57" cy="314.54" r="8.3" class="k"/><line x1="621.27" y1="318.07" x2="622.62" y2="324.84" class="c"/><line x1="619.87" y1="311.01" x2="618.52" y2="304.24" class="c"/><line x1="617.04" y1="315.24" x2="612.43" y2="316.16" class="c"/><line x1="624.1" y1="313.84" x2="628.71" y2="312.92" class="c"/><line x1="620.32" y1="313.27" x2="620.83" y2="315.82" class="c" stroke-width="1.1"/><line x1="621.85" y1="314.29" x2="619.3" y2="314.79" class="c" stroke-width="1.1"/><path d="M 612.38 315.89 A 128 128 0 0 1 578.82 315.89" class="k" stroke-width="0.95" stroke-dasharray="13.93 1.9 2 1.9 13.93 50"/><circle cx="570.63" cy="314.54" r="8.3" class="k"/><line x1="569.93" y1="318.07" x2="568.58" y2="324.84" class="c"/><line x1="571.33" y1="311.01" x2="572.68" y2="304.24" class="c"/><line x1="567.1" y1="313.84" x2="562.49" y2="312.92" class="c"/><line x1="574.16" y1="315.24" x2="578.77" y2="316.16" class="c"/><line x1="570.88" y1="313.27" x2="570.37" y2="315.82" class="c" stroke-width="1.1"/><line x1="571.9" y1="314.79" x2="569.35" y2="314.29" class="c" stroke-width="1.1"/><path d="M 562.55 312.66 A 128 128 0 0 1 531.53 299.81" class="k" stroke-width="0.95" stroke-dasharray="13.93 1.9 2 1.9 13.93 50"/><circle cx="524.49" cy="295.43" r="8.3" class="k"/><line x1="522.49" y1="298.42" x2="518.65" y2="304.16" class="c"/><line x1="526.49" y1="292.43" x2="530.32" y2="286.7" class="c"/><line x1="521.49" y1="293.43" x2="517.59" y2="290.82" class="c"/><line x1="527.48" y1="297.43" x2="531.39" y2="300.04" class="c"/><line x1="525.21" y1="294.35" x2="523.76" y2="296.51" class="c" stroke-width="1.1"/><line x1="525.57" y1="296.15" x2="523.41" y2="294.71" class="c" stroke-width="1.1"/><path d="M 517.74 290.6 A 128 128 0 0 1 494 266.86" class="k" stroke-width="0.95" stroke-dasharray="13.93 1.9 2 1.9 13.93 50"/><circle cx="489.17" cy="260.11" r="8.3" class="k"/><line x1="486.18" y1="262.11" x2="480.44" y2="265.95" class="c"/><line x1="492.17" y1="258.11" x2="497.9" y2="254.28" class="c"/><line x1="487.17" y1="257.12" x2="484.56" y2="253.21" class="c"/><line x1="491.17" y1="263.11" x2="493.78" y2="267.01" class="c"/><line x1="490.25" y1="259.39" x2="488.09" y2="260.84" class="c" stroke-width="1.1"/><line x1="489.89" y1="261.19" x2="488.45" y2="259.03" class="c" stroke-width="1.1"/><path d="M 484.79 253.07 A 128 128 0 0 1 471.94 222.05" class="k" stroke-width="0.95" stroke-dasharray="13.93 1.9 2 1.9 13.93 50"/><circle cx="470.06" cy="213.97" r="8.3" class="k"/><line x1="466.53" y1="214.67" x2="459.76" y2="216.02" class="c"/><line x1="473.59" y1="213.27" x2="480.36" y2="211.92" class="c"/><line x1="469.36" y1="210.44" x2="468.44" y2="205.83" class="c"/><line x1="470.76" y1="217.5" x2="471.68" y2="222.11" class="c"/><line x1="471.33" y1="213.72" x2="468.78" y2="214.23" class="c" stroke-width="1.1"/><line x1="470.31" y1="215.25" x2="469.81" y2="212.7" class="c" stroke-width="1.1"/><path d="M 468.71 205.78 A 128 128 0 0 1 468.71 172.22" class="k" stroke-width="0.95" stroke-dasharray="13.93 1.9 2 1.9 13.93 50"/><circle cx="470.06" cy="164.03" r="8.3" class="k"/><line x1="466.53" y1="163.33" x2="459.76" y2="161.98" class="c"/><line x1="473.59" y1="164.73" x2="480.36" y2="166.08" class="c"/><line x1="470.76" y1="160.5" x2="471.68" y2="155.89" class="c"/><line x1="469.36" y1="167.56" x2="468.44" y2="172.17" class="c"/><line x1="471.33" y1="164.28" x2="468.78" y2="163.77" class="c" stroke-width="1.1"/><line x1="469.81" y1="165.3" x2="470.31" y2="162.75" class="c" stroke-width="1.1"/><path d="M 471.94 155.95 A 128 128 0 0 1 484.79 124.93" class="k" stroke-width="0.95" stroke-dasharray="13.93 1.9 2 1.9 13.93 50"/><circle cx="489.17" cy="117.89" r="8.3" class="k"/><line x1="486.18" y1="115.89" x2="480.44" y2="112.05" class="c"/><line x1="492.17" y1="119.89" x2="497.9" y2="123.72" class="c"/><line x1="491.17" y1="114.89" x2="493.78" y2="110.99" class="c"/><line x1="487.17" y1="120.88" x2="484.56" y2="124.79" class="c"/><line x1="490.25" y1="118.61" x2="488.09" y2="117.16" class="c" stroke-width="1.1"/><line x1="488.45" y1="118.97" x2="489.89" y2="116.81" class="c" stroke-width="1.1"/><path d="M 494 111.14 A 128 128 0 0 1 517.74 87.4" class="k" stroke-width="0.95" stroke-dasharray="13.93 1.9 2 1.9 13.93 50"/><circle cx="524.49" cy="82.57" r="8.3" class="k"/><line x1="522.49" y1="79.58" x2="518.65" y2="73.84" class="c"/><line x1="526.49" y1="85.57" x2="530.32" y2="91.3" class="c"/><line x1="527.48" y1="80.57" x2="531.39" y2="77.96" class="c"/><line x1="521.49" y1="84.57" x2="517.59" y2="87.18" class="c"/><line x1="525.21" y1="83.65" x2="523.76" y2="81.49" class="c" stroke-width="1.1"/><line x1="523.41" y1="83.29" x2="525.57" y2="81.85" class="c" stroke-width="1.1"/><path d="M 531.53 78.19 A 128 128 0 0 1 562.55 65.34" class="k" stroke-width="0.95" stroke-dasharray="13.93 1.9 2 1.9 13.93 50"/><circle cx="570.63" cy="63.46" r="8.3" class="k"/><line x1="569.93" y1="59.93" x2="568.58" y2="53.16" class="c"/><line x1="571.33" y1="66.99" x2="572.68" y2="73.76" class="c"/><line x1="574.16" y1="62.76" x2="578.77" y2="61.84" class="c"/><line x1="567.1" y1="64.16" x2="562.49" y2="65.08" class="c"/><line x1="570.88" y1="64.73" x2="570.37" y2="62.18" class="c" stroke-width="1.1"/><line x1="569.35" y1="63.71" x2="571.9" y2="63.21" class="c" stroke-width="1.1"/><path d="M 578.82 62.11 A 128 128 0 0 1 612.38 62.11" class="k" stroke-width="0.95" stroke-dasharray="13.93 1.9 2 1.9 13.93 50"/><line x1="484" y1="189.2" x2="707.5" y2="189.2" class="k" stroke="#000" stroke-width="1.1"/><circle cx="444.3" cy="189" r="0.6" fill="#333"/><circle cx="480" cy="189" r="0.7" fill="#333"/><circle cx="711" cy="189" r="0.7" fill="#333"/><circle cx="747" cy="189" r="0.6" fill="#333"/><line x1="595.6" y1="37" x2="595.6" y2="342" class="k" stroke-width="1" stroke-dasharray="32 1.8 2.4 1.8" stroke-dashoffset="35"/><line x1="446.3" y1="186.5" x2="476.9" y2="186.5" stroke="#2a2a2a" stroke-width="0.85"/><line x1="446.3" y1="189.2" x2="476.9" y2="189.2" stroke="#2a2a2a" stroke-width="0.85"/><line x1="446.3" y1="191.5" x2="476.9" y2="191.5" stroke="#2a2a2a" stroke-width="0.85"/><line x1="714.3" y1="186.5" x2="744.9" y2="186.5" stroke="#2a2a2a" stroke-width="0.85"/><line x1="714.3" y1="189.2" x2="744.9" y2="189.2" stroke="#2a2a2a" stroke-width="0.85"/><line x1="714.3" y1="191.5" x2="744.9" y2="191.5" stroke="#2a2a2a" stroke-width="0.85"/><use href="#connR" x="552.5" y="151.6"/><use href="#connR" x="638.7" y="151.6"/><use href="#connR" x="552.5" y="189"/><use href="#connR" x="638.7" y="189"/><use href="#connR" x="552.5" y="226.4"/><use href="#connR" x="638.7" y="226.4"/><line x1="10.6" y1="198" x2="10.6" y2="376.5" class="b"/><line x1="309.2" y1="228" x2="309.2" y2="376.5" class="b"/><line x1="10.6" y1="374.3" x2="309.2" y2="374.3" class="b"/><path d="M 10.6 374.3 L 18.1 372.85 L 18.1 375.75 Z" fill="#1a2896"/><path d="M 309.2 374.3 L 301.7 375.75 L 301.7 372.85 Z" fill="#1a2896"/><line x1="116.8" y1="243" x2="116.8" y2="360" class="b"/><line x1="202.4" y1="243" x2="202.4" y2="360" class="b"/><line x1="116.8" y1="357.9" x2="202.4" y2="357.9" class="b"/><path d="M 116.8 357.9 L 124.3 356.45 L 124.3 359.35 Z" fill="#1a2896"/><path d="M 202.4 357.9 L 194.9 359.35 L 194.9 356.45 Z" fill="#1a2896"/><line x1="240.5" y1="151.6" x2="335" y2="151.6" class="b"/><line x1="240.5" y1="226.2" x2="335" y2="226.2" class="b"/><line x1="332.5" y1="151.6" x2="332.5" y2="226.2" class="b"/><path d="M 332.5 151.6 L 333.95 159.1 L 331.05 159.1 Z" fill="#1a2896"/><path d="M 332.5 226.2 L 331.05 218.7 L 333.95 218.7 Z" fill="#1a2896"/><line x1="375.5" y1="12" x2="375.5" y2="38.5" class="b"/><line x1="411.3" y1="12" x2="411.3" y2="142" class="b"/><line x1="405.5" y1="27" x2="405.5" y2="38.5" class="b"/><line x1="375.5" y1="14" x2="411.3" y2="14" class="b"/><line x1="375.5" y1="29.3" x2="405.5" y2="29.3" class="b"/><path d="M 375.5 14 L 383 12.55 L 383 15.45 Z" fill="#1a2896"/><path d="M 411.3 14 L 403.8 15.45 L 403.8 12.55 Z" fill="#1a2896"/><path d="M 375.5 29.3 L 383 27.85 L 383 30.75 Z" fill="#1a2896"/><path d="M 405.5 29.3 L 398 30.75 L 398 27.85 Z" fill="#1a2896"/><line x1="132.71" y1="54.34" x2="124.58" y2="13.44" class="b"/><line x1="186.29" y1="54.34" x2="194.42" y2="13.44" class="b"/><path d="M 125.07 15.89 A 176.5 176.5 0 0 1 193.93 15.89" class="b"/><path d="M 125.07 15.89 L 132.14 13.01 L 132.71 15.85 Z" fill="#1a2896"/><path d="M 193.93 15.89 L 186.29 15.85 L 186.86 13.01 Z" fill="#1a2896"/><line x1="159.5" y1="25.5" x2="159.5" y2="39" class="b"/><path d="M 99.11 39.54 A 161.2 161.2 0 0 1 159.5 27.8" class="b"/><path d="M 128.05 30.9 L 135.12 28.01 L 135.69 30.86 Z" fill="#1a2896"/><path d="M 159.5 27.8 L 152 29.25 L 152 26.35 Z" fill="#1a2896"/><polyline points="37,34.9 76.9,34.9 87.3,74.5" class="b"/><path d="M 87.3 74.5 L 83.99 67.61 L 86.8 66.88 Z" fill="#1a2896"/><polyline points="3.7,64.8 53.7,64.8 75.4,91.3" class="b"/><path d="M 75.4 91.3 L 69.53 86.42 L 71.77 84.58 Z" fill="#1a2896"/><polyline points="446.6,63.4 485.7,63.4 521,104" class="b"/><path d="M 521 104 L 514.98 99.29 L 517.17 97.39 Z" fill="#1a2896"/><polyline points="434.2,85.1 473,85.1 505.5,113" class="b"/><path d="M 505.5 113 L 498.86 109.21 L 500.75 107.01 Z" fill="#1a2896"/><polyline points="298,26.1 234,26.1 193.7,139" class="k" stroke-width="1"/><circle cx="193.7" cy="139" r="1.1" fill="#1c1c1c"/><polyline points="350.2,52.7 268.8,52.7 236.6,147.5" class="k" stroke-width="1"/><path d="M 236.6 147.5 L 237.67 140.47 L 240.03 141.27 Z" fill="#111"/><polyline points="447,359.1 529,359.1 584.3,228.5" class="k" stroke-width="1"/><path d="M 584.3 228.5 L 582.72 235.43 L 580.42 234.46 Z" fill="#111"/><polyline points="510,381.4 574.5,381.4 615.4,236.6" class="k" stroke-width="1"/><circle cx="615.4" cy="236.6" r="1.1" fill="#1c1c1c"/><polyline points="553.5,406.6 599.5,406.6 614,329.8" class="k" stroke-width="1"/><circle cx="614" cy="329.8" r="1.1" fill="#1c1c1c"/><text x="160.4" y="10.3" class="tb" text-anchor="middle">16x 22,5°</text><text x="0" y="0" class="tb" transform="translate(99,37) rotate(-21)">11,25°</text><text x="37.3" y="32.7" class="tb">16x</text><ellipse cx="58.1" cy="29.6" rx="2.7" ry="3.0" fill="none" stroke="#2535a6" stroke-width="0.95"/><line x1="56.1" y1="34" x2="60.3" y2="25.4" stroke="#2535a6" stroke-width="0.9"/><text x="61.8" y="32.7" class="tb">8,4</text><text x="6.6" y="61.7" class="tb">Tk</text><ellipse cx="22.9" cy="58.6" rx="2.7" ry="3.0" fill="none" stroke="#2535a6" stroke-width="0.95"/><line x1="20.9" y1="63" x2="25.1" y2="54.4" stroke="#2535a6" stroke-width="0.9"/><text x="27" y="61.7" class="tb">130,3</text><text x="235.5" y="23.7" class="tk">6x D-Sub 15 m</text><text x="270" y="50.4" class="tk">12x 4-40 UNC x4</text><path d="M 342.8 44.4 L 349.2 44.4 M 343.4 47.4 L 346 50.2 L 348.6 47.4 M 346 44.9 L 346 48.9" fill="none" stroke="#151515" stroke-width="1.05"/><text x="390.7" y="11.6" class="tb" text-anchor="middle">18,2</text><text x="389" y="26.5" class="tb" text-anchor="middle">15</text><text x="160.4" y="355.5" class="tb" text-anchor="middle">44</text><ellipse cx="149.6" cy="368.9" rx="2.7" ry="3.0" fill="none" stroke="#2535a6" stroke-width="0.95"/><line x1="147.6" y1="373.3" x2="151.8" y2="364.7" stroke="#2535a6" stroke-width="0.9"/><text x="153.8" y="372" class="tb">152,4</text><text x="0" y="0" class="tb" text-anchor="middle" transform="translate(330.6,187.3) rotate(-90)">38</text><ellipse cx="455" cy="58.5" rx="2.7" ry="3.0" fill="none" stroke="#2535a6" stroke-width="0.95"/><line x1="453" y1="62.9" x2="457.2" y2="54.3" stroke="#2535a6" stroke-width="0.9"/><text x="459.4" y="61.6" class="tb">114,9</text><ellipse cx="442.4" cy="80.1" rx="2.7" ry="3.0" fill="none" stroke="#2535a6" stroke-width="0.95"/><line x1="440.4" y1="84.5" x2="444.6" y2="75.9" stroke="#2535a6" stroke-width="0.9"/><text x="446.6" y="83.2" class="tb">120,6</text><text x="447" y="357.5" class="tk">12x 4-40 UNC x4</text><path d="M 519.5 351.5 L 525.9 351.5 M 520.1 354.5 L 522.7 357.3 L 525.3 354.5 M 522.7 352 L 522.7 356" fill="none" stroke="#151515" stroke-width="1.05"/><text x="510" y="379.5" class="tk">6x D-Sub 15 m</text><text x="553.6" y="405" class="tk">DN100 CF</text><text x="115" y="523" class="tk" style="font-weight:bold;font-size:9.4px;letter-spacing:0;word-spacing:0;stroke-width:0.1">Vacuum side</text><text x="239.6" y="523" class="tk" style="font-weight:bold;font-size:9.4px;letter-spacing:0;word-spacing:0;stroke-width:0.1">Air side</text></svg></body></html>
